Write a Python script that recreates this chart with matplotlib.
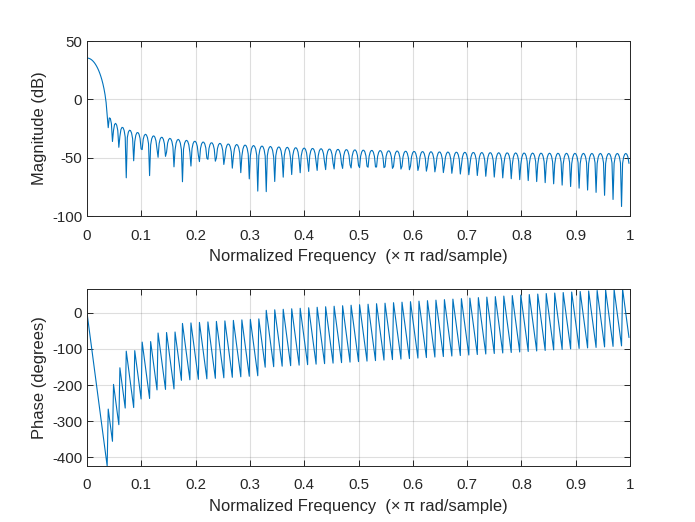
import numpy as np
import matplotlib
matplotlib.use("Agg")
import matplotlib.pyplot as plt

# the curves are the freqz of a Kaiser window (length and beta fitted to the dips)
n_taps = 128
kaiser_beta = 7.0
n_points = 512

x_ticks = [0, 0.1, 0.2, 0.3, 0.4, 0.5, 0.6, 0.7, 0.8, 0.9, 1]
x_ticklabels = ["0", "0.1", "0.2", "0.3", "0.4", "0.5", "0.6", "0.7", "0.8", "0.9", "1"]
mag_ticks = [-100, -50, 0, 50]
phase_ticks = [-400, -300, -200, -100, 0]

taps = np.kaiser(n_taps, kaiser_beta)
H = np.fft.fft(taps, 2 * n_points)[:n_points]
freq = np.arange(n_points) / n_points
mag_db = 20 * np.log10(np.abs(H))
phase_deg = np.degrees(np.unwrap(np.angle(H)))

plt.rcParams["font.family"] = ["Liberation Sans", "DejaVu Sans"]
plt.rcParams["axes.unicode_minus"] = False

line_color = (0, 0.447, 0.741)
axis_color = (0.15, 0.15, 0.15)
tick_size = 10.8
label_size = 11.9

fig = plt.figure(figsize=(6.95, 5.22), dpi=100)
ax1 = fig.add_axes([0.1252, 0.5862, 0.7813, 0.3352])
ax2 = fig.add_axes([0.1252, 0.1073, 0.7813, 0.3391])


def style(ax):
    ax.set_xlim(0, 1)
    ax.set_xticks(x_ticks)
    ax.set_xticklabels(x_ticklabels)
    ax.grid(True, color=(0.15, 0.15, 0.15), alpha=0.15, linewidth=0.8)
    ax.set_axisbelow(True)
    ax.tick_params(direction="in", top=True, right=True, length=4,
                   width=0.7, colors=axis_color, labelsize=tick_size)
    ax.tick_params(axis="x", pad=9)
    ax.tick_params(axis="y", pad=3.5)
    for s in ax.spines.values():
        s.set_color(axis_color)
        s.set_linewidth(0.7)
    ax.set_xlabel("Normalized Frequency  (\u00d7\u2009\u03c0 rad/sample)",
                  fontsize=label_size, color=axis_color, labelpad=4.5)


ax1.plot(freq, mag_db, color=line_color, linewidth=0.8)
style(ax1)
ax1.set_ylim(-100, 50)
ax1.set_yticks(mag_ticks)
ax1.set_ylabel("Magnitude (dB)", fontsize=label_size, color=axis_color,
               labelpad=3.5)

ax2.plot(freq, phase_deg, color=line_color, linewidth=0.8)
style(ax2)
ax2.set_ylim(phase_deg.min(), phase_deg.max())
ax2.set_yticks(phase_ticks)
ax2.set_ylabel("Phase (degrees)", fontsize=label_size, color=axis_color,
               labelpad=3.5)

fig.savefig("out.png", dpi=100)
